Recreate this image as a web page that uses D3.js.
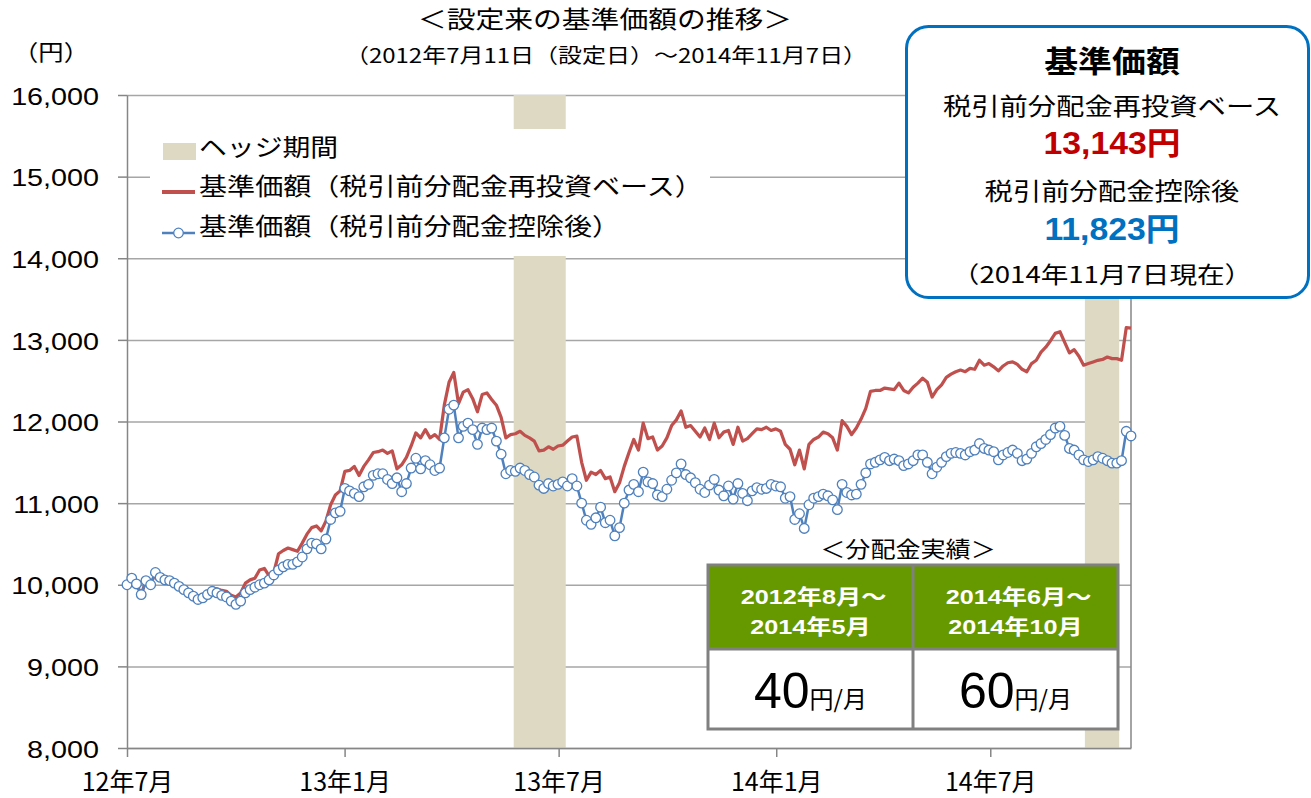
<!DOCTYPE html>
<html lang="ja">
<head>
<meta charset="utf-8">
<script src="https://cdn.jsdelivr.net/npm/d3@7"></script>
<style>
  body { margin: 0; background: #fff; }
  svg { display: block; }
  text { font-family: "Noto Sans CJK JP", sans-serif; }
  .num { font-family: "Liberation Sans", Arial, "Noto Sans CJK JP", sans-serif; }
</style>
</head>
<body>
<div id="chart"></div>
<script>
// Data
const setupDate = "2012-07-11";
const lastDate = "2014-11-07";

// 基準価額（税引前分配金再投資ベース） - samples evenly spaced from setup to last date
const navReinvested = [
  10000, 10080, 10010, 9880, 10050, 10000, 10150, 10090, 10060, 10050,
  10030, 9990, 9950, 9910, 9870, 9840, 9860, 9910, 9960, 9950,
  9930, 9920, 9870, 9850, 9900, 10020, 10060, 10080, 10180, 10200,
  10110, 10150, 10380, 10420, 10450, 10430, 10410, 10510, 10620, 10700,
  10720, 10660, 10780, 10980, 11100, 11150, 11390, 11400, 11450, 11340,
  11450, 11530, 11620, 11630, 11650, 11610, 11640, 11420, 11470, 11560,
  11700, 11860, 11800, 11900, 11800, 11840, 11780, 12200, 12480, 12600,
  12220, 12360, 12390, 12280, 12120, 12330, 12350, 12270, 12200, 12050,
  11800, 11840, 11850, 11880, 11830, 11800, 11760, 11640, 11650, 11690,
  11660, 11700, 11710, 11760, 11810, 11820, 11500, 11280, 11380, 11350,
  11400, 11300, 11320, 11140, 11250, 11450, 11620, 11780, 11650, 11980,
  11790, 11810, 11650, 11700, 11800, 11950, 12020, 12130, 11930, 11950,
  11880, 11810, 11920, 11780, 11980, 11800, 11870, 11890, 11720, 11930,
  11760, 11790, 11850, 11910, 11900, 11930, 11890, 11910, 11880, 11720,
  11660, 11470, 11650, 11420, 11720, 11780, 11810, 11870, 11850, 11800,
  11650, 12010, 11940, 11840, 11920, 12030, 12160, 12370, 12380, 12380,
  12410, 12400, 12390, 12470, 12380, 12350, 12420, 12470, 12530, 12480,
  12300, 12390, 12450, 12540, 12580, 12610, 12630, 12610, 12650, 12640,
  12750, 12690, 12710, 12670, 12620, 12680, 12720, 12730, 12700, 12640,
  12610, 12710, 12750, 12850, 12910, 12990, 13080, 13100, 12970, 12840,
  12880, 12800, 12690, 12710, 12730, 12750, 12760, 12790, 12770, 12770,
  12750, 13150, 13143
];

// 基準価額（税引前分配金控除後）
const navAfterDist = [
  10000, 10080, 10010, 9880, 10050, 10000, 10150, 10090, 10060, 10050,
  10020, 9980, 9940, 9900, 9860, 9820, 9840, 9880, 9920, 9900,
  9870, 9850, 9800, 9760, 9800, 9900, 9940, 9970, 10000, 10020,
  10060, 10120, 10180, 10220, 10250, 10250, 10280, 10340, 10440, 10510,
  10500, 10440, 10560, 10800, 10880, 10900, 11180, 11150, 11120, 11080,
  11200, 11230, 11340, 11360, 11360, 11290, 11240, 11310, 11140, 11240,
  11430, 11550, 11420, 11520, 11470, 11400, 11430, 11800, 12150, 12200,
  11800, 11940, 11980, 11900, 11720, 11920, 11900, 11920, 11760, 11600,
  11360, 11400, 11390, 11430, 11400, 11350, 11320, 11220, 11180, 11240,
  11210, 11230, 11260, 11210, 11300, 11210, 11000, 10790, 10740, 10820,
  10950, 10760, 10790, 10600, 10700, 11000, 11160, 11230, 11140, 11380,
  11260, 11240, 11100, 11080, 11170, 11280, 11370, 11480, 11350, 11310,
  11250, 11170, 11130, 11220, 11290, 11160, 11090, 11210, 11050, 11240,
  11120, 11030, 11150, 11190, 11170, 11180, 11230, 11210, 11200, 11060,
  11080, 10800, 10870, 10690, 10980, 11060, 11080, 11110, 11090, 11040,
  10920, 11230, 11130, 11100, 11110, 11230, 11370, 11480, 11500, 11530,
  11560, 11520, 11540, 11520, 11460, 11480, 11520, 11590, 11590, 11500,
  11360, 11440, 11500, 11570, 11610, 11620, 11610, 11590, 11630, 11650,
  11730, 11670, 11650, 11630, 11530, 11590, 11620, 11650, 11610, 11520,
  11540, 11610, 11690, 11730, 11780, 11840, 11920, 11940, 11830, 11670,
  11650, 11590, 11530, 11510, 11530, 11570, 11550, 11520, 11490, 11490,
  11520, 11880, 11823
];

const yTicks = [8000, 9000, 10000, 11000, 12000, 13000, 14000, 15000, 16000];
const xTickDates = ["2012-07-11", "2013-01-11", "2013-07-11", "2014-01-11", "2014-07-11"];
const hedgePeriods = [["2013-06-03", "2013-07-17"], ["2014-09-29", "2014-10-28"]];

const seriesNames = ["基準価額（税引前分配金再投資ベース）", "基準価額（税引前分配金控除後）"];
const hedgeLabel = "ヘッジ期間";
const distPeriods = [["2012年8月～", "2014年5月"], ["2014年6月～", "2014年10月"]];
const distAmounts = [40, 60];

// Layout
const W = 1311, H = 798;
const plot = { left: 127, right: 1131, top: 95, bottom: 748 };
const red = "#C0504D", blue = "#4F81BD", hedgeFill = "#DDD9C3", gridColor = "#A6A6A6", axisColor = "#868686";

const parse = d3.timeParse("%Y-%m-%d");
const t0 = parse(setupDate), t1 = parse(lastDate);
const n = navAfterDist.length;
const sampleDate = i => new Date(+t0 + (t1 - t0) * i / (n - 1));

const seriesRed = navReinvested.map((v, i) => ({ date: sampleDate(i), value: v }));
const seriesBlue = navAfterDist.map((v, i) => ({ date: sampleDate(i), value: v }));

const svg = d3.select("#chart").append("svg")
    .attr("width", W)
    .attr("height", H);

const x = d3.scaleTime().domain([t0, t1]).range([plot.left, plot.right]);
const y = d3.scaleLinear().domain([8000, 16000]).range([plot.bottom, plot.top]);

// put a text that is stretched horizontally (the original is wider than tall)
function stretchedText(parent, str, px, py, size, sx, opts = {}) {
    return parent.append("text")
        .attr("transform", `translate(${px},${py}) scale(${sx},1)`)
        .attr("text-anchor", opts.anchor || "middle")
        .attr("font-size", size)
        .attr("font-weight", opts.weight || "normal")
        .attr("fill", opts.fill || "#000")
        .attr("class", opts.cls || null)
        .text(str);
}

// Horizontal grid
svg.append("g")
    .attr("transform", `translate(${plot.left},0)`)
    .call(d3.axisLeft(y).tickValues(yTicks).tickSize(-(plot.right - plot.left)).tickFormat(""))
    .call(g => g.select(".domain").remove())
    .call(g => g.selectAll("line").attr("stroke", gridColor).attr("stroke-width", 1.5));

// Hedge periods
svg.append("g").selectAll("rect")
    .data(hedgePeriods)
    .join("rect")
    .attr("x", d => x(parse(d[0])))
    .attr("width", d => x(parse(d[1])) - x(parse(d[0])))
    .attr("y", plot.top)
    .attr("height", plot.bottom - plot.top)
    .attr("fill", hedgeFill);

// right border
svg.append("line")
    .attr("x1", plot.right).attr("x2", plot.right)
    .attr("y1", plot.top).attr("y2", plot.bottom)
    .attr("stroke", axisColor).attr("stroke-width", 1.5);

// Y axis
const yScaleX = 1.25;
svg.append("g")
    .attr("transform", `translate(${plot.left},0)`)
    .call(d3.axisLeft(y).tickValues(yTicks).tickSize(9).tickSizeOuter(0).tickFormat(d3.format(",")))
    .call(g => g.attr("font-family", null).attr("font-size", null))
    .call(g => g.select(".domain").attr("stroke", axisColor).attr("stroke-width", 1.5))
    .call(g => g.selectAll("line").attr("stroke", axisColor).attr("stroke-width", 1.5))
    .call(g => g.selectAll("text")
        .attr("class", "num")
        .attr("font-size", 23)
        .attr("fill", "#000")
        .attr("x", -28 / yScaleX)
        .attr("dy", "0.4em")
        .attr("transform", `scale(${yScaleX},1)`));

// X axis
svg.append("g")
    .attr("transform", `translate(0,${plot.bottom})`)
    .call(d3.axisBottom(x).tickValues(xTickDates.map(parse)).tickSize(9).tickSizeOuter(0)
        .tickFormat(d3.timeFormat("%y年%-m月")))
    .call(g => g.attr("font-family", null).attr("font-size", null))
    .call(g => g.select(".domain").attr("stroke", axisColor).attr("stroke-width", 1.5))
    .call(g => g.selectAll("line").attr("stroke", axisColor).attr("stroke-width", 1.5))
    .call(g => g.selectAll("text")
        .attr("font-size", 25)
        .attr("fill", "#000")
        .attr("y", 43)
        .attr("dy", 0));

// Lines
const line = d3.line()
    .x(d => x(d.date))
    .y(d => y(d.value));

svg.append("path")
    .datum(seriesRed)
    .attr("fill", "none")
    .attr("stroke", red)
    .attr("stroke-width", 3.25)
    .attr("stroke-linejoin", "round")
    .attr("d", line);

svg.append("path")
    .datum(seriesBlue)
    .attr("fill", "none")
    .attr("stroke", blue)
    .attr("stroke-width", 2.5)
    .attr("stroke-linejoin", "round")
    .attr("d", line);

svg.append("g").selectAll("circle")
    .data(seriesBlue)
    .join("circle")
    .attr("cx", d => x(d.date))
    .attr("cy", d => y(d.value))
    .attr("r", 4.8)
    .attr("fill", "#fff")
    .attr("stroke", blue)
    .attr("stroke-width", 1.3);

// Legend
const legend = svg.append("g");
legend.append("rect")
    .attr("x", 150).attr("y", 129).attr("width", 560).attr("height", 127)
    .attr("fill", "#fff");
legend.append("rect")
    .attr("x", 163).attr("y", 143).attr("width", 33).attr("height", 17)
    .attr("fill", hedgeFill);
stretchedText(legend, hedgeLabel, 199, 156, 24, 1.16, { anchor: "start" });
legend.append("line")
    .attr("x1", 162).attr("x2", 195).attr("y1", 192).attr("y2", 192)
    .attr("stroke", red).attr("stroke-width", 4);
stretchedText(legend, seriesNames[0], 199, 195, 24, 1.17, { anchor: "start" });
legend.append("line")
    .attr("x1", 162).attr("x2", 195).attr("y1", 233).attr("y2", 233)
    .attr("stroke", blue).attr("stroke-width", 2.5);
legend.append("circle")
    .attr("cx", 178.5).attr("cy", 233).attr("r", 4.8)
    .attr("fill", "#fff").attr("stroke", blue).attr("stroke-width", 1.3);
stretchedText(legend, seriesNames[1], 199, 235, 24, 1.17, { anchor: "start" });

// Titles
stretchedText(svg, "＜設定来の基準価額の推移＞", 605, 28, 24, 1.2);
const fmtDay = d3.timeFormat("%Y年%-m月%-d日");
stretchedText(svg, `（${fmtDay(t0)}（設定日）～${fmtDay(t1)}）`, 606, 63, 20, 1.2);
stretchedText(svg, "（円）", 51, 60, 22, 1.15);

// Info box with latest values
const info = svg.append("g");
info.append("rect")
    .attr("x", 906.5).attr("y", 26.5).attr("width", 402).attr("height", 271).attr("rx", 22)
    .attr("fill", "#fff").attr("stroke", "#0070C0").attr("stroke-width", 3);
const cx = 1112;
const fmtNum = d3.format(",");
stretchedText(info, "基準価額", cx, 72, 30, 1.13, { weight: "bold" });
stretchedText(info, "税引前分配金再投資ベース", cx, 115, 24, 1.18);
stretchedText(info, fmtNum(navReinvested[n - 1]) + "円", cx, 154, 31, 1.09,
    { weight: "bold", fill: "#C00000", cls: "num" });
stretchedText(info, "税引前分配金控除後", cx, 200, 24, 1.18);
stretchedText(info, fmtNum(navAfterDist[n - 1]) + "円", cx, 240, 31, 1.09,
    { weight: "bold", fill: "#0070C0", cls: "num" });
stretchedText(info, d3.timeFormat("（%Y年%-m月%-d日現在）")(t1), cx - 10, 283, 23, 1.2);

// Distribution table
const table = svg.append("g");
const tb = { left: 708, right: 1118, top: 565, mid: 649, bottom: 729 };
stretchedText(table, "＜分配金実績＞", 908, 557, 22, 1.14);
table.append("rect")
    .attr("x", tb.left).attr("y", tb.top).attr("width", tb.right - tb.left).attr("height", tb.mid - tb.top)
    .attr("fill", "#669900");
table.append("rect")
    .attr("x", tb.left).attr("y", tb.mid).attr("width", tb.right - tb.left).attr("height", tb.bottom - tb.mid)
    .attr("fill", "#fff");
table.append("rect")
    .attr("x", tb.left).attr("y", tb.top).attr("width", tb.right - tb.left).attr("height", tb.bottom - tb.top)
    .attr("fill", "none").attr("stroke", "#808080").attr("stroke-width", 3);
table.append("line")
    .attr("x1", tb.left).attr("x2", tb.right).attr("y1", tb.mid).attr("y2", tb.mid)
    .attr("stroke", "#808080").attr("stroke-width", 3);
table.append("line")
    .attr("x1", 913).attr("x2", 913).attr("y1", tb.top).attr("y2", tb.bottom)
    .attr("stroke", "#808080").attr("stroke-width", 3);

const cellCenters = [(tb.left + 913) / 2, (913 + tb.right) / 2];
distPeriods.forEach((p, i) => {
    stretchedText(table, p[0], cellCenters[i] + 3, 604, 21, 1.2, { weight: "bold", fill: "#fff", cls: "num" });
    stretchedText(table, p[1], cellCenters[i], 634, 21, 1.2, { weight: "bold", fill: "#fff", cls: "num" });
    const t = table.append("text")
        .attr("x", cellCenters[i])
        .attr("y", 708)
        .attr("text-anchor", "middle")
        .attr("class", "num");
    t.append("tspan").attr("font-size", 50).text(distAmounts[i]);
    t.append("tspan").attr("font-size", 24).attr("font-family", "Noto Sans CJK JP").text("円/月");
});
</script>
</body>
</html>
